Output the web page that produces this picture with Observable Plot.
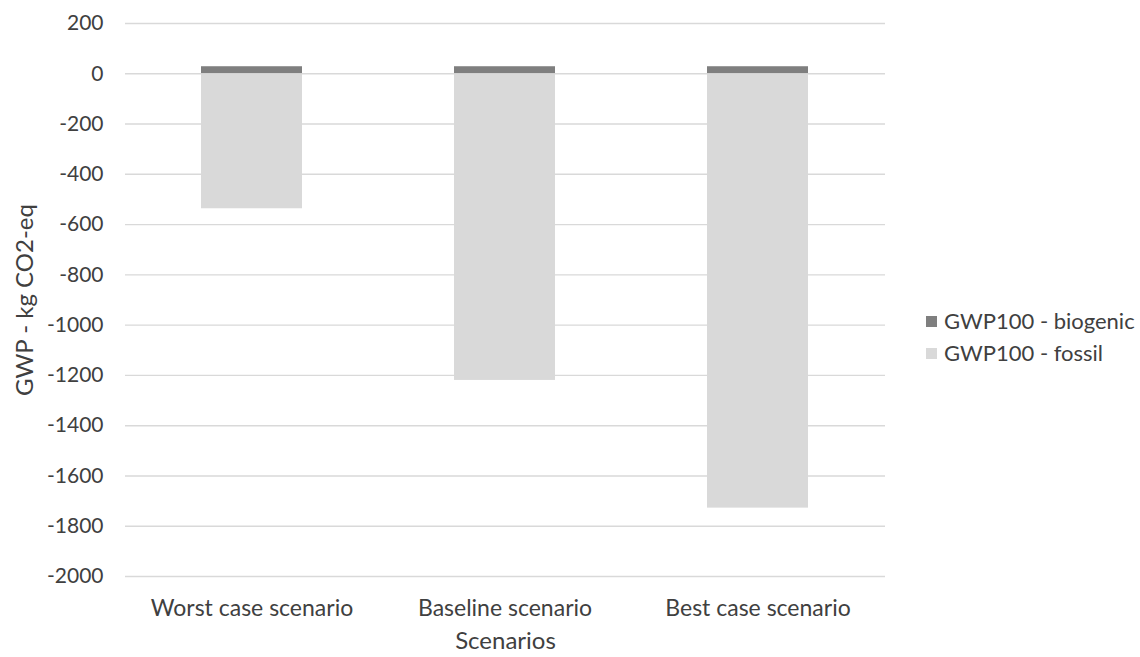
<!DOCTYPE html>
<html>
<head>
<meta charset="utf-8">
<script src="https://cdn.jsdelivr.net/npm/d3@7"></script>
<script src="https://cdn.jsdelivr.net/npm/@observablehq/plot@0.6"></script>
<style>
  html, body { margin: 0; padding: 0; background: #fff; }
  #chart { position: relative; width: 1140px; height: 657px; font-family: Lato, "Open Sans", sans-serif; }
  #legend { position: absolute; left: 926px; top: 305px; color: #404040; font-size: 22px; line-height: 32px; }
  #legend .row { display: flex; align-items: center; white-space: nowrap; }
  #legend .sw { width: 11px; height: 11px; margin-right: 7px; }
</style>
</head>
<body>
<div id="chart"></div>
<script>
// Scenario categories and the two GWP100 components (kg CO2-eq)
const scenarios = ["Worst case scenario", "Baseline scenario", "Best case scenario"];
const seriesNames = ["GWP100 - biogenic", "GWP100 - fossil"];
const biogenic = [28, 28, 28];
const fossil = [-537, -1220, -1728];
const seriesColors = ["#7f7f7f", "#d9d9d9"];
const yTicks = [200, 0, -200, -400, -600, -800, -1000, -1200, -1400, -1600, -1800, -2000];

const rows = scenarios.flatMap((s, i) => [
  {scenario: s, series: seriesNames[0], value: biogenic[i]},
  {scenario: s, series: seriesNames[1], value: fossil[i]}
]);

const textColor = "#404040";

const plot = Plot.plot({
  width: 1140,
  height: 657,
  marginTop: 23,
  marginBottom: 81,
  marginLeft: 125,
  marginRight: 255,
  style: {fontFamily: "Lato, 'Open Sans', sans-serif", fontSize: "20px", color: textColor, background: "#fff"},
  x: {domain: scenarios, paddingInner: 0.6, paddingOuter: 0.3},
  y: {domain: [-2000, 200]},
  color: {domain: seriesNames, range: seriesColors},
  marks: [
    Plot.gridY(yTicks, {stroke: "#d9d9d9", strokeOpacity: 1, strokeWidth: 1.4}),
    Plot.barY(rows, Plot.stackY({x: "scenario", y: "value", fill: "series", order: seriesNames})),
    // tick labels
    Plot.axisY({
      ticks: yTicks,
      tickFormat: d => String(d),
      tickSize: 0,
      tickPadding: 22,
      fontSize: 21,
      label: null
    }),
    // axis title
    Plot.axisY({
      ticks: [],
      tickSize: 0,
      fontSize: 24,
      label: "GWP - kg CO2-eq",
      labelAnchor: "center",
      labelArrow: "none",
      labelOffset: 110
    }),
    Plot.axisX({
      tickSize: 0,
      tickPadding: 23,
      fontSize: 23,
      label: null
    }),
    Plot.axisX({
      ticks: [],
      tickSize: 0,
      fontSize: 24,
      label: "Scenarios",
      labelAnchor: "center",
      labelArrow: "none",
      labelOffset: 72
    })
  ]
});

const chart = document.getElementById("chart");
chart.appendChild(plot);

// Series key on the right side
const legend = document.createElement("div");
legend.id = "legend";
seriesNames.forEach((name, i) => {
  const row = document.createElement("div");
  row.className = "row";
  const sw = document.createElement("span");
  sw.className = "sw";
  sw.style.background = seriesColors[i];
  const label = document.createElement("span");
  label.textContent = name;
  row.appendChild(sw);
  row.appendChild(label);
  legend.appendChild(row);
});
chart.appendChild(legend);
</script>
</body>
</html>
